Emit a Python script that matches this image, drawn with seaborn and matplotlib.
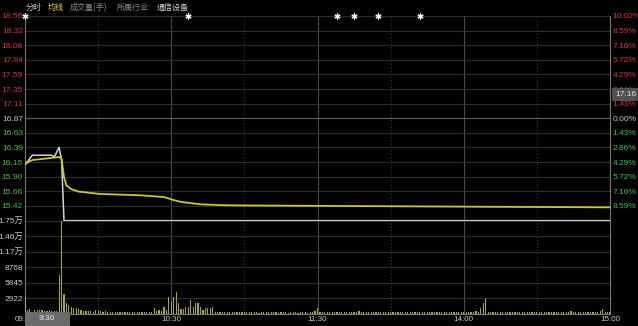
import matplotlib
matplotlib.use("Agg")
import numpy as np
import pandas as pd
import matplotlib.pyplot as plt
from matplotlib.patches import Rectangle
import seaborn as sns

# ---------------- data ----------------
prev_close = 16.87

price_minutes = [0, 3, 11, 12, 14, 15, 16, 240]
price_values = [16.10, 16.26, 16.26, 16.23, 16.39, 16.18, 15.18, 15.18]

avg_minutes = [0, 3, 14, 15, 16, 17, 19, 22, 31, 47, 57, 61, 64, 72, 80, 87, 131, 188, 240]
avg_values = [16.12, 16.18, 16.23, 16.20, 15.90, 15.76, 15.70, 15.66, 15.62, 15.60,
              15.57, 15.52, 15.49, 15.45, 15.437, 15.432, 15.422, 15.41, 15.40]

volume = [
    3300, 600, 800, 350, 700, 750, 650, 700, 450, 550, 600, 450, 500, 550, 7300,
    26000, 3600, 2000, 1600, 1300, 1000, 1000, 900, 700, 500, 450, 400, 450, 350, 600,
    700, 400, 350, 450, 300, 350, 300, 250, 300, 350, 250, 300, 250, 300, 350,
    300, 250, 300, 350, 300, 250, 300, 350, 1000, 500, 700, 500, 1200, 600, 3100,
    2200, 3200, 4100, 2000, 800, 900, 1150, 1200, 2500, 1300, 2000, 1900, 1150, 700, 950,
    950, 1000, 1300, 300, 250, 200, 250, 300, 200, 250, 200, 300, 250, 200, 250,
    200, 250, 300, 200, 250, 200, 150, 200, 250, 200, 300, 200, 250, 200, 150,
    200, 250, 200, 150, 200, 250, 200, 150, 200, 250, 200, 150, 200, 300, 500,
    1000, 300, 250, 200, 250, 300, 200, 250, 300, 200, 250, 300, 200, 250, 200,
    300, 250, 400, 250, 200, 250, 200, 300, 250, 200, 250, 300, 200, 250, 200,
    250, 300, 200, 250, 200, 300, 250, 200, 250, 200, 300, 250, 200, 250, 200,
    250, 300, 200, 250, 200, 250, 300, 200, 250, 200, 300, 250, 200, 250, 200,
    250, 200, 300, 250, 200, 400, 300, 950, 1900, 3000, 300, 250, 200, 300, 250,
    200, 250, 300, 200, 250, 200, 300, 250, 200, 350, 250, 200, 250, 300, 200,
    250, 200, 300, 250, 200, 250, 200, 300, 250, 200, 350, 250, 200, 250, 500,
    250, 200, 300, 250, 200, 250, 200, 300, 250, 200, 300, 400, 900, 300, 250,
    300,
]
volume_minutes = list(range(len(volume)))

price_tick_labels = ["18.56", "18.32", "18.08", "17.84", "17.59", "17.35", "17.11", "16.87",
                     "16.63", "16.39", "16.15", "15.90", "15.66", "15.42", ""]
pct_tick_labels = ["10.02%", "8.59%", "7.16%", "5.72%", "4.29%", "2.86%", "1.43%", "0.00%",
                   "1.43%", "2.86%", "4.29%", "5.72%", "7.16%", "8.59%", ""]
vol_tick_values = [2922, 5845, 8768, 11690, 14613, 17536]
vol_tick_labels = ["2922", "5845", "8768", "1.17万", "1.46万", "1.75万"]
time_tick_minutes = [0, 60, 120, 180, 240]
time_tick_labels = ["09:30", "10:30", "11:30", "14:00", "15:00"]
event_minutes = [0, 67, 128, 135, 145, 162]
cursor_price_label = "17.16"
cursor_time_label = "9:30"

# ---------------- style ----------------
sns.set_style("dark", {"axes.facecolor": "black", "figure.facecolor": "black",
                       "axes.edgecolor": "#777777", "grid.color": "#2c2c2c"})
plt.rcParams["font.family"] = ["Liberation Sans", "Noto Sans CJK SC", "DejaVu Sans"]

W, H = 638, 326
fig = plt.figure(figsize=(W / 100, H / 100), dpi=100)
fig.patch.set_facecolor("black")

x0, x1 = 25, 610
y_top, y_mid, y_bot = 16, 220.5, 313.5
axp = fig.add_axes([x0 / W, 1 - y_mid / H, (x1 - x0) / W, (y_mid - y_top) / H])
axv = fig.add_axes([x0 / W, 1 - y_bot / H, (x1 - x0) / W, (y_bot - y_mid) / H])

upper, lower = prev_close * 1.1, prev_close * 0.9
price_ticks = np.linspace(upper, lower, 15)

RED, GREEN, GREY = "#d03a3a", "#3fbf3f", "#c8c8c8"

for ax in (axp, axv):
    ax.set_facecolor("black")
    ax.set_xlim(0, 240)
    for v in (60, 120, 180):
        ax.axvline(v, color="#4a4a4a", lw=0.8, zorder=0)
    for v in (30, 90, 150, 210):
        ax.axvline(v, color="#3a3a3a", lw=0.8, ls=(0, (1, 2)), zorder=0)
    ax.spines["top"].set_visible(False)
    for s in ("left", "right", "bottom"):
        ax.spines[s].set_color("#7a7a7a")
        ax.spines[s].set_linewidth(0.8)
    ax.tick_params(length=0)

# price panel
axp.spines["bottom"].set_visible(False)
axp.set_ylim(lower, upper)
for t in price_ticks:
    axp.axhline(t, color="#5c5c5c" if abs(t - prev_close) < 1e-6 else "#2e2e2e",
                lw=0.8, zorder=0)
pdf = pd.DataFrame({"minute": price_minutes, "price": price_values})
adf = pd.DataFrame({"minute": avg_minutes, "avg": avg_values})
sns.lineplot(data=pdf, x="minute", y="price", ax=axp, color="#d4d4d4", lw=1.1, zorder=3)
sns.lineplot(data=adf, x="minute", y="avg", ax=axp, color="#c6c640", lw=1.3, zorder=4)
axp.scatter(event_minutes, [upper] * len(event_minutes), marker=(6, 2, 0), s=14,
            color="white", linewidths=0.9, clip_on=False, zorder=6)
axp.set_xlabel("")
axp.set_ylabel("")
axp.set_xticks([])
axp.set_yticks(price_ticks)
axp.set_yticklabels(price_tick_labels, fontsize=6)
axp.tick_params(axis="y", pad=1.5)
for i, lab in enumerate(axp.get_yticklabels()):
    lab.set_color(RED if i < 7 else (GREY if i == 7 else GREEN))

axr = axp.twinx()
axr.set_ylim(lower, upper)
axr.set_yticks(price_ticks)
axr.set_yticklabels(pct_tick_labels, fontsize=6)
axr.tick_params(length=0, pad=2)
for s in axr.spines.values():
    s.set_visible(False)
for i, lab in enumerate(axr.get_yticklabels()):
    lab.set_color(RED if i < 7 else (GREY if i == 7 else GREEN))
axr.grid(False)

# volume panel
axv.set_ylim(0, vol_tick_values[-1])
for t in vol_tick_values:
    axv.axhline(t, color="#2e2e2e", lw=0.8, zorder=0)
vdf = pd.DataFrame({"minute": volume_minutes, "volume": volume})
sns.barplot(data=vdf, x="minute", y="volume", ax=axv, native_scale=True, width=0.5,
            color="#a8a83a", saturation=1, errorbar=None, linewidth=0, zorder=3)
axv.set_xlim(0, 240)
axv.set_xlabel("")
axv.set_ylabel("")
axv.set_yticks(vol_tick_values)
axv.set_yticklabels(vol_tick_labels, fontsize=6, color=GREY)
axv.set_xticks(time_tick_minutes)
axv.set_xticklabels(time_tick_labels, fontsize=5.8, color=GREY)
axv.tick_params(axis="y", pad=1.5)
axv.tick_params(axis="x", pad=2)
axv.grid(False)
axp.grid(False)

# header
hy = 1 - 7.5 / H
cjk = ["Noto Sans CJK SC", "DejaVu Sans"]
fig.text(26 / W, hy, "分时", color="#c8c8c8", fontsize=5.8, va="center", family=cjk)
fig.text(48 / W, hy, "均线", color="#e0e030", fontsize=5.8, va="center", family=cjk)
fig.text(70 / W, hy, "成交量(手)", color="#8a8a8a", fontsize=5.8, va="center", family=cjk)
fig.text(117 / W, hy, "所属行业:", color="#8a8a8a", fontsize=5.8, va="center", family=cjk)
fig.text(157 / W, hy, "通信设备", color="#dcdcdc", fontsize=5.8, va="center", family=cjk)

# cursor labels
fig.add_artist(Rectangle((25 / W, 0), 45 / W, 14 / H, transform=fig.transFigure,
                         facecolor="#6c6c6c", edgecolor="none", zorder=10))
fig.text(47 / W, 1 - 319 / H, cursor_time_label, color="#e8e8e8", fontsize=6,
         ha="center", va="center", zorder=11)
fig.add_artist(Rectangle((612 / W, 1 - 101 / H), 26 / W, 13 / H, transform=fig.transFigure,
                         facecolor="#505050", edgecolor="none", zorder=10))
fig.text(636 / W, 1 - 94.5 / H, cursor_price_label, color="#e0e0e0", fontsize=6,
         ha="right", va="center", zorder=11)

fig.savefig("out.png", dpi=100, facecolor="black")
